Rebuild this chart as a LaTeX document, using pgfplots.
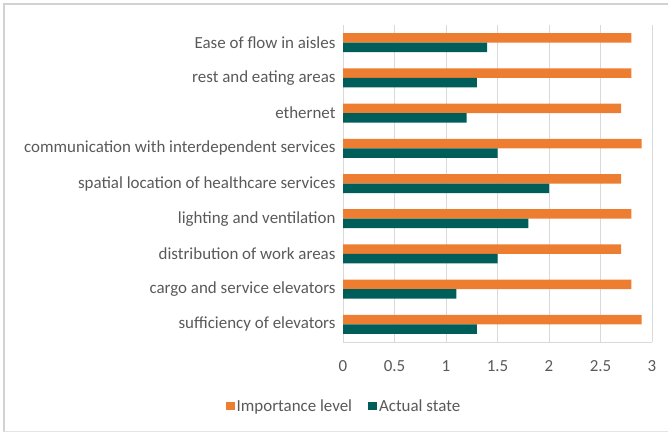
\documentclass[border=0pt]{standalone}
\usepackage{pgfplots}
\pgfplotsset{compat=1.18}
\usepackage{fontspec}
\setmainfont{Carlito}
\definecolor{impc}{RGB}{237,125,49}
\definecolor{actc}{RGB}{0,94,90}
\definecolor{txtc}{RGB}{89,89,89}
\definecolor{gridc}{RGB}{217,217,217}
\definecolor{framec}{RGB}{210,210,210}
\begin{document}
\begin{tikzpicture}
\useasboundingbox (0bp,0bp) rectangle (668bp,434bp);
\draw[framec,line width=1.2bp] (4bp,2bp) -- (4bp,430bp) -- (668bp,430bp);
\draw[framec!60,line width=1bp] (4bp,2bp) -- (668bp,2bp);
\begin{axis}[
  at={(343bp,92bp)}, anchor=south west,
  scale only axis, width=309bp, height=317bp,
  xmin=0, xmax=3, ymin=-0.5, ymax=8.5,
  xtick={0,0.5,...,3},
  xticklabels={0,0.5,1,1.5,2,2.5,3},
  ytick={0,...,8},
  yticklabels={sufficiency of elevators,cargo and service elevators,distribution of work areas,lighting and ventilation,spatial location of healthcare services,communication with interdependent services,ethernet,rest and eating areas,Ease of flow in aisles},
  axis lines*=left,
  y axis line style={draw=none},
  x axis line style={gridc, line width=0.8bp, -},
  major tick length=0pt,
  xmajorgrids, grid style={gridc,line width=1bp},
  tick label style={font=\fontsize{17}{20}\selectfont, text=txtc},
  xticklabel style={anchor=base, yshift=-30bp},
  yticklabel style={xshift=-4bp},
  /pgf/number format/assume math mode=true,
  xbar, bar width=9.5bp,
  legend style={at={(0.003,-0.202)}, anchor=center, draw=none, legend columns=2,
    font=\fontsize{17}{20}\selectfont, text=txtc,
    /tikz/every even column/.append style={column sep=14bp}},
  legend cell align=left,
  legend image code/.code={\fill[#1] (4bp,-4bp) rectangle (13bp,4bp);},
]
\addplot[draw=none, fill=impc, bar shift=4.75bp] coordinates {
 (2.9,0) (2.8,1) (2.7,2) (2.8,3) (2.7,4) (2.9,5) (2.7,6) (2.8,7) (2.8,8)};
\addlegendentry{Importance level}
\addplot[draw=none, fill=actc, bar shift=-4.75bp] coordinates {
 (1.3,0) (1.1,1) (1.5,2) (1.8,3) (2.0,4) (1.5,5) (1.2,6) (1.3,7) (1.4,8)};
\addlegendentry{Actual state}
\end{axis}
\end{tikzpicture}
\end{document}
